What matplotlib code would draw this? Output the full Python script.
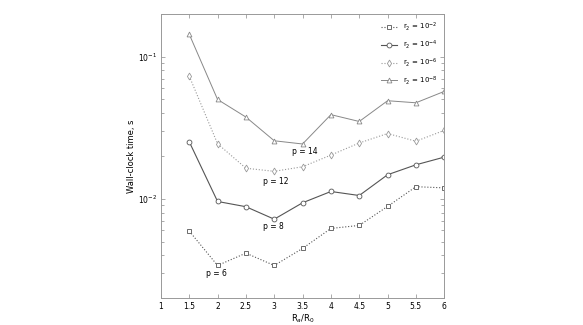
import numpy as np
import matplotlib.pyplot as plt
from matplotlib.ticker import LogLocator, NullFormatter

ratio = [1.5, 2, 2.5, 3, 3.5, 4, 4.5, 5, 5.5, 6]

t_r2 = [0.00592, 0.00339, 0.00414, 0.00339, 0.00447, 0.00618, 0.00649, 0.00883, 0.01216, 0.01193]
t_r4 = [0.0252, 0.00957, 0.00879, 0.00718, 0.00937, 0.01125, 0.01054, 0.01476, 0.01734, 0.01964]
t_r6 = [0.073, 0.0244, 0.0164, 0.0156, 0.0168, 0.0203, 0.0247, 0.0288, 0.0254, 0.0303]
t_r8 = [0.144, 0.050, 0.0376, 0.0256, 0.0243, 0.0391, 0.035, 0.049, 0.0474, 0.057]

labels = ['r$_2$ = 10$^{-2}$', 'r$_2$ = 10$^{-4}$', 'r$_2$ = 10$^{-6}$', 'r$_2$ = 10$^{-8}$']
p_text = ['p = 6', 'p = 8', 'p = 12', 'p = 14']
p_pos = [(1.80, 0.00296), (2.80, 0.00641), (2.80, 0.0133), (3.31, 0.0216)]

fs = 5.5
fig = plt.figure(figsize=(5.83, 3.25), dpi=100)
ax = fig.add_axes([0.276, 0.083, 0.486, 0.874])

ax.plot(ratio, t_r2, ':', color='#555555', lw=0.8, marker='s', ms=3, mfc='white', mew=0.6, label=labels[0])
ax.plot(ratio, t_r4, '-', color='#555555', lw=0.8, marker='o', ms=3.5, mfc='white', mew=0.6, label=labels[1])
ax.plot(ratio, t_r6, ':', color='#999999', lw=0.8, marker='d', ms=3.5, mfc='white', mew=0.6, label=labels[2])
ax.plot(ratio, t_r8, '-', color='#888888', lw=0.7, marker='^', ms=3.5, mfc='white', mew=0.6, label=labels[3])

for txt, (x, y) in zip(p_text, p_pos):
    ax.text(x, y, txt, fontsize=fs, va='center', ha='left')

ax.set_yscale('log')
ax.set_xlim(1, 6)
ax.set_ylim(0.002, 0.2)
ax.set_xticks(np.arange(1, 6.01, 0.5))
ax.set_xticklabels(['1', '1.5', '2', '2.5', '3', '3.5', '4', '4.5', '5', '5.5', '6'])
ax.yaxis.set_major_locator(LogLocator(base=10, numticks=10))
ax.yaxis.set_minor_locator(LogLocator(base=10, subs=np.arange(2, 10), numticks=20))
ax.yaxis.set_minor_formatter(NullFormatter())
ax.tick_params(which='both', direction='in', top=True, right=True, labelsize=fs, color='#888888')
ax.tick_params(which='major', length=3, width=0.5, pad=3)
ax.tick_params(which='minor', length=2, width=0.5)
for s in ax.spines.values():
    s.set_color('#999999')
    s.set_linewidth(0.7)

ax.set_xlabel('R$_a$/R$_0$', fontsize=fs + 0.5, labelpad=1)
ax.set_ylabel('Wall-clock time, s', fontsize=fs + 0.5, labelpad=1)
ax.legend(loc='upper right', frameon=False, fontsize=fs - 0.5, handlelength=2.4,
          labelspacing=0.75, borderaxespad=0.6)

fig.savefig('out.png', dpi=100)
